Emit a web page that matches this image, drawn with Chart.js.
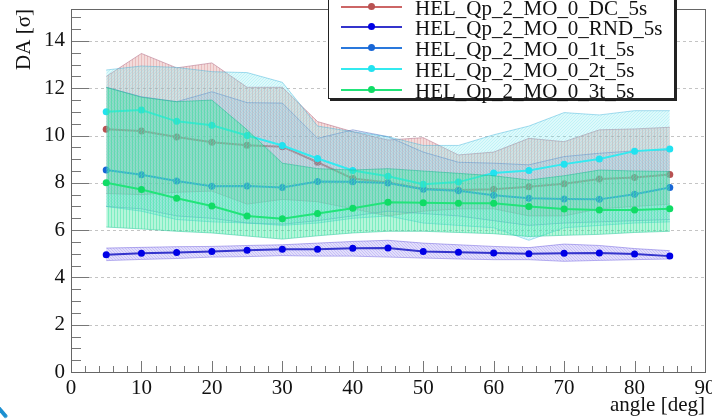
<!DOCTYPE html>
<html>
<head>
<meta charset="utf-8">
<script src="https://cdn.jsdelivr.net/npm/chart.js@4.4.1/dist/chart.umd.min.js"></script>
<style>
body { margin: 0; background: #fff; }
#wrap { position: relative; width: 712px; height: 419px; overflow: hidden; }
#legend { position: absolute; left: 328px; top: -15px; width: 347px; height: 114px; box-sizing: border-box;
  border: 1px solid #222; box-shadow: 2px 2px 0 #222; background: #fff; }
.row { position: absolute; left: 0; width: 340px; height: 21px; }
.row .ln { position: absolute; left: 12px; width: 61px; top: 10px; height: 2px; }
.row .dot { position: absolute; left: 39px; top: 7px; width: 7px; height: 7px; border-radius: 50%; }
.row .txt { position: absolute; left: 86px; top: 0; line-height: 21px; font: 21px 'Liberation Serif', serif; color: #111; white-space: nowrap; }
#corner { position: absolute; left: -2px; top: 404px; width: 16px; height: 4px; background: #1c8fd0; transform: rotate(50deg); transform-origin: 0 0; border-radius: 2px; }
</style>
</head>
<body>
<div id="wrap">
  <canvas id="chart" width="712" height="419"></canvas>
  <div id="legend"></div>
  <div id="corner"></div>
</div>
<script>
const angles = [5, 10, 15, 20, 25, 30, 35, 40, 45, 50, 55, 60, 65, 70, 75, 80, 85];
const names = ['HEL_Qp_2_MO_0_DC_5s', 'HEL_Qp_2_MO_0_RND_5s', 'HEL_Qp_2_MO_0_1t_5s', 'HEL_Qp_2_MO_0_2t_5s', 'HEL_Qp_2_MO_0_3t_5s'];
const yTicks = [0, 2, 4, 6, 8, 10, 12, 14];

const dcMean = [10.27, 10.19, 9.94, 9.72, 9.59, 9.53, 8.87, 8.18, 8.01, 7.75, 7.70, 7.73, 7.83, 7.96, 8.16, 8.22, 8.35];
const dcHigh = [12.50, 13.47, 12.86, 13.07, 12.04, 12.04, 10.59, 10.16, 9.81, 9.91, 9.18, 9.30, 9.88, 9.74, 10.24, 10.28, 10.35];
const dcLow  = [7.55, 7.50, 7.60, 7.65, 7.10, 7.30, 7.20, 6.90, 6.60, 6.80, 6.90, 6.90, 6.60, 6.60, 6.90, 7.00, 7.10];

const rndMean = [4.96, 5.02, 5.05, 5.10, 5.15, 5.19, 5.19, 5.23, 5.24, 5.10, 5.06, 5.03, 5.00, 5.02, 5.03, 4.99, 4.90];
const rndHigh = [5.24, 5.27, 5.30, 5.31, 5.35, 5.38, 5.45, 5.52, 5.57, 5.45, 5.38, 5.31, 5.26, 5.41, 5.35, 5.22, 5.13];
const rndLow  = [4.71, 4.76, 4.80, 4.86, 4.88, 4.92, 4.90, 4.90, 4.86, 4.82, 4.78, 4.75, 4.75, 4.68, 4.72, 4.75, 4.78];

const t1Mean = [8.54, 8.34, 8.08, 7.85, 7.87, 7.80, 8.06, 8.04, 7.99, 7.73, 7.66, 7.47, 7.35, 7.32, 7.30, 7.52, 7.80];
const t1High = [12.04, 11.64, 11.43, 11.85, 11.39, 11.37, 9.88, 10.24, 9.95, 9.30, 8.87, 8.83, 8.76, 9.11, 9.25, 9.35, 9.39];
const t1Low  = [7.00, 6.90, 6.60, 6.50, 6.30, 6.25, 6.40, 6.60, 6.80, 6.70, 6.60, 6.40, 6.20, 6.30, 6.35, 6.40, 6.45];

const t2Mean = [11.00, 11.08, 10.60, 10.43, 10.00, 9.58, 9.03, 8.52, 8.28, 7.94, 8.03, 8.42, 8.52, 8.79, 9.01, 9.34, 9.43];
const t2High = [12.77, 12.94, 12.88, 12.70, 12.66, 12.25, 10.40, 10.16, 9.95, 9.58, 9.58, 10.03, 10.40, 10.97, 10.87, 11.05, 11.05];
const t2Low  = [7.00, 6.80, 6.45, 6.35, 6.30, 6.20, 6.30, 6.50, 6.60, 6.30, 6.20, 6.10, 5.57, 6.10, 6.20, 6.30, 6.35];

const t3Mean = [8.00, 7.72, 7.35, 7.02, 6.60, 6.48, 6.70, 6.92, 7.18, 7.16, 7.14, 7.14, 7.00, 6.89, 6.85, 6.85, 6.90];
const t3High = [12.04, 11.62, 11.43, 11.50, 10.24, 8.83, 8.60, 8.54, 8.60, 8.50, 8.40, 8.30, 8.12, 8.30, 8.54, 8.50, 8.48];
const t3Low  = [6.13, 6.05, 5.95, 5.88, 5.75, 5.62, 5.76, 5.88, 5.95, 5.95, 5.90, 5.85, 5.73, 5.78, 5.82, 5.90, 5.95];

// styles per series, same order as names
const lineColors = ['#cc6666', '#3434cc', '#2a78dc', '#33eaf0', '#22e47a'];
const dotColors  = ['#b85252', '#0000e6', '#1866d6', '#22e2f0', '#10dc66'];
const bandRgb    = [[215, 135, 135], [150, 135, 240], [115, 145, 205], [115, 228, 238], [60, 230, 160]];
const bandAlpha  = [0.3, 0.28, 0.14, 0.24, 0.38];
const hatchKind  = ['v', 'd', 'd', 'u', 'v'];

function hatch(rgb, alpha, kind) {
  const c = document.createElement('canvas');
  c.width = 3; c.height = 3;
  const g = c.getContext('2d');
  const col = a => `rgba(${rgb[0]},${rgb[1]},${rgb[2]},${a})`;
  g.fillStyle = col(alpha);
  g.fillRect(0, 0, 3, 3);
  g.fillStyle = col(alpha * 1.2);
  if (kind === 'v') g.fillRect(0, 0, 1, 3);
  else for (let i = 0; i < 3; i++) g.fillRect(kind === 'd' ? i : 2 - i, i, 1, 1);
  return g.createPattern(c, 'repeat');
}

const pts = arr => angles.map((a, i) => ({ x: a, y: arr[i] }));

const series = [
  [dcMean, dcHigh, dcLow],
  [rndMean, rndHigh, rndLow],
  [t1Mean, t1High, t1Low],
  [t2Mean, t2High, t2Low],
  [t3Mean, t3High, t3Low]
];

const datasets = [];
series.forEach(([mean, high, low], i) => {
  const rgb = bandRgb[i];
  const edge = `rgba(${rgb[0] - 50},${rgb[1] - 50},${rgb[2] - 20},0.45)`;
  const base = (series.length - i) * 2;
  datasets.push({ data: pts(high), borderColor: edge, borderWidth: 1, pointRadius: 0,
    fill: '+1', backgroundColor: hatch(rgb, bandAlpha[i], hatchKind[i]), order: base + 1 });
  datasets.push({ data: pts(low), borderColor: edge, borderWidth: 1, pointRadius: 0,
    fill: false, order: base + 1 });
  datasets.push({ label: names[i], data: pts(mean), borderColor: lineColors[i], borderWidth: 2,
    pointRadius: 3.5, pointBackgroundColor: dotColors[i], pointBorderWidth: 0, fill: false, order: base });
});

const serif = "'Liberation Serif', 'Times New Roman', serif";

const rootAxes = {
  id: 'rootAxes',
  beforeDatasetsDraw(chart) {
    const { ctx, chartArea: a, scales: { y } } = chart;
    ctx.save();
    ctx.strokeStyle = '#c4c4c4';
    ctx.lineWidth = 1;
    ctx.setLineDash([3, 3]);
    ctx.beginPath();
    yTicks.slice(1).forEach(v => {
      const py = Math.round(y.getPixelForValue(v)) + 0.5;
      ctx.moveTo(a.left, py); ctx.lineTo(a.right, py);
    });
    ctx.stroke();
    ctx.restore();
  },
  afterDatasetsDraw(chart) {
    const { ctx, chartArea: a, scales: { x, y } } = chart;
    ctx.save();
    ctx.strokeStyle = '#777';
    ctx.lineWidth = 1;
    ctx.beginPath();
    for (let v = 0; v <= 90; v += 2) {
      const px = Math.round(x.getPixelForValue(v)) + 0.5;
      const len = v % 10 === 0 ? 11 : 6;
      ctx.moveTo(px, a.bottom); ctx.lineTo(px, a.bottom - len);
    }
    for (let v = 0; v <= 15; v += 0.5) {
      const py = Math.round(y.getPixelForValue(v)) + 0.5;
      const len = v % 2 === 0 ? 18 : 10;
      ctx.moveTo(a.left, py); ctx.lineTo(a.left + len, py);
    }
    ctx.stroke();
    ctx.strokeStyle = '#666';
    ctx.strokeRect(Math.round(a.left) + 0.5, Math.round(a.top) + 0.5, Math.round(a.right - a.left), Math.round(a.bottom - a.top));
    ctx.restore();
  }
};

new Chart(document.getElementById('chart'), {
  type: 'line',
  data: { datasets },
  options: {
    responsive: false,
    animation: false,
    devicePixelRatio: 1,
    layout: { padding: { top: 9, right: 7, left: 0, bottom: 0 } },
    elements: { line: { tension: 0 } },
    plugins: { legend: { display: false }, tooltip: { enabled: false } },
    scales: {
      x: {
        type: 'linear', min: 0, max: 90,
        grid: { display: false, drawTicks: false },
        border: { display: false },
        ticks: { stepSize: 10, padding: 4, color: '#111', font: { family: serif, size: 21 }, maxRotation: 0, autoSkip: false },
        title: { display: true, text: 'angle [deg]', align: 'end', color: '#111', font: { family: serif, size: 21 }, padding: { top: 0, bottom: 1 } },
        afterFit(s) { s.height = 47; s.paddingLeft = 0; s.paddingRight = 0; }
      },
      y: {
        min: 0, max: 15.35,
        grid: { display: false, drawTicks: false },
        border: { display: false },
        ticks: { stepSize: 2, includeBounds: false, padding: 6, color: '#111', font: { family: serif, size: 21 },
          callback: v => yTicks.includes(v) ? String(v) : '' },
        title: { display: true, text: 'DA [σ]', align: 'end', color: '#111', font: { family: serif, size: 21 }, padding: { top: 12, bottom: 0 } },
        afterFit(s) { s.width = 71; s.paddingTop = 0; s.paddingBottom = 0; }
      }
    }
  },
  plugins: [rootAxes]
});

// ROOT style legend box
const legend = document.getElementById('legend');
names.forEach((n, i) => {
  const row = document.createElement('div');
  row.className = 'row';
  row.style.top = (15 + 6 + i * 20.8 - 11.5) + 'px';
  row.innerHTML = `<span class="ln" style="background:${lineColors[i]}"></span>` +
    `<span class="dot" style="background:${dotColors[i]}"></span><span class="txt">${n}</span>`;
  legend.appendChild(row);
});
</script>
</body>
</html>
